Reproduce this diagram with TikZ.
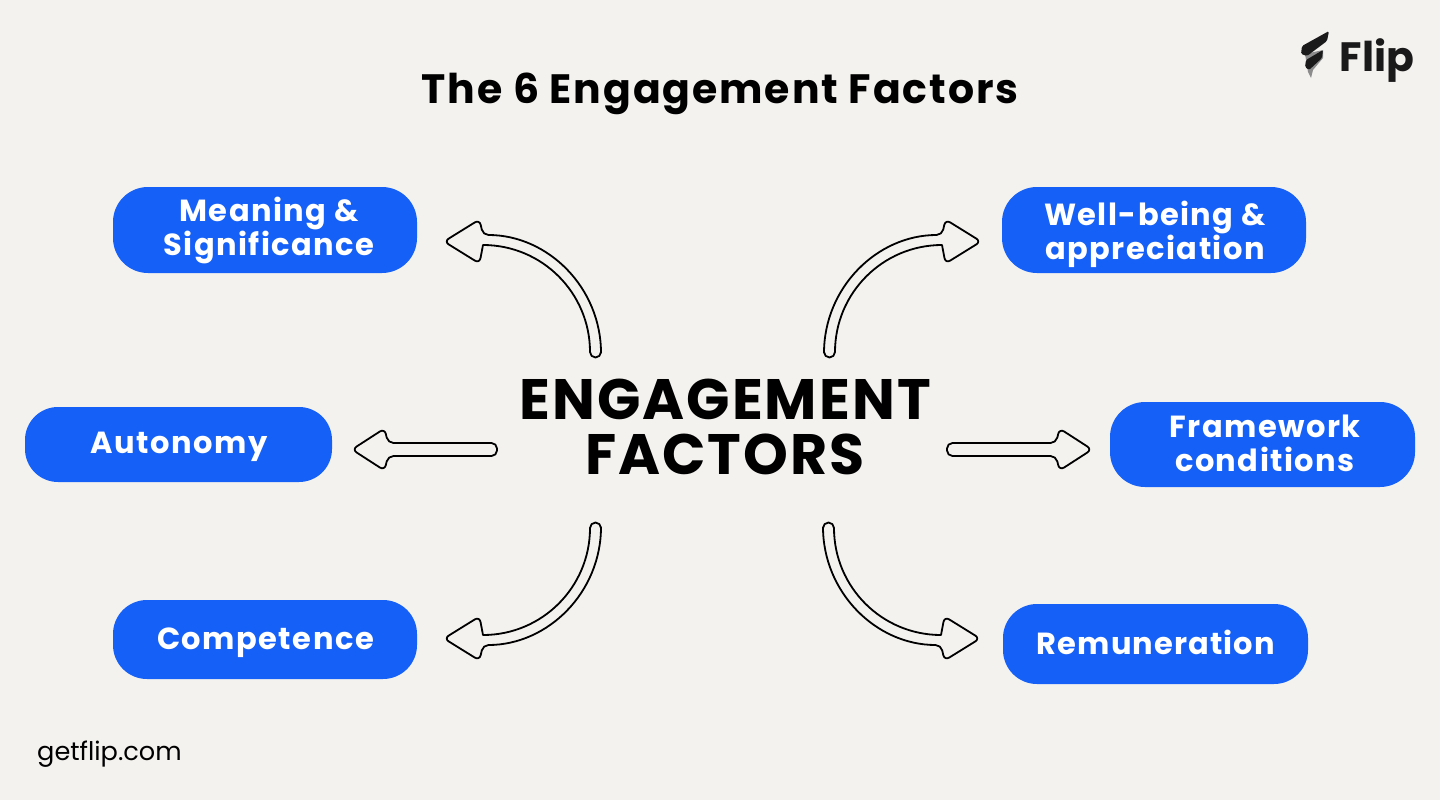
\documentclass[tikz,border=0pt]{standalone}
\usepackage{fontspec}
\setmainfont{Poppins}
\newfontfamily\titlefont[LetterSpace=4.6]{Poppins Bold}
\newfontfamily\pillfont[LetterSpace=4.8]{Poppins Bold}
\newfontfamily\pilltightfont[LetterSpace=3.6]{Poppins Bold}
\newfontfamily\centerfont[LetterSpace=3.6]{Poppins Bold}
\definecolor{bgpaper}{HTML}{F4F2EF}
\definecolor{pillblue}{HTML}{1560F6}
\definecolor{inkdark}{HTML}{1A1A1A}
\definecolor{inkgray}{HTML}{8C8C8C}
\tikzset{
  pillbox/.style={fill=pillblue,draw=none,inner sep=0pt},
  pilltext/.style={text=white,font=\fontsize{30.5}{34}\selectfont\pillfont,align=center,inner sep=0pt},
  arrowoutline/.style={draw=black,line width=1.8pt,fill=bgpaper,rounded corners=5.5pt,line join=round},
}
\newcommand{\pillat}[6]{% name, x0,y0,x1,y1, radius
  \path[pillbox,rounded corners=#6pt] (#2,-#3) rectangle (#4,-#5);
  \coordinate (#1) at ({(#2+#4)/2},{-(#3+#5)/2});
}
\newcommand{\curvedarrow}{%
  \draw[arrowoutline]
    (444,-241.5) -- (479.5,-219.5) -- (483,-235)
    [sharp corners] arc[start angle=90,end angle=0,radius=118]
    -- (601,-352) arc[start angle=0,end angle=-180,radius=5.5]
    arc[start angle=0,end angle=90,radius=107]
    [rounded corners=5.5pt] -- (479.5,-263.5) -- cycle;
}
\newcommand{\straightarrow}{%
  \draw[arrowoutline]
    (352,-449.5) -- (384.5,-428.5) -- (388,-443) -- (497,-443) -- (497,-456) -- (388,-456) -- (384.5,-470.5) -- cycle;
}
\begin{document}
\begin{tikzpicture}[x=1pt,y=1pt]
\useasboundingbox (0,0) rectangle (1440,-800);
\fill[bgpaper] (0,0) rectangle (1440,-800);

\node[inner sep=0pt,font=\fontsize{41}{46}\selectfont\titlefont] (title) at (720,-94) {The 6 Engagement Factors};

% logo
\fill[inkgray] (1305,-54) -- (1323,-50) -- (1323,-58) -- (1313,-70) -- (1311,-78) -- (1308,-72) -- cycle;
\fill[inkdark,rounded corners=1.5pt] (1329,-31) -- (1327,-41) -- (1307,-56) -- (1301,-54) -- (1302,-46) -- cycle;
\fill[inkdark,rounded corners=1.5pt] (1323,-50) -- (1322,-58) -- (1309,-70) -- (1305,-67) -- (1306,-60) -- cycle;
\node[inner sep=0pt,anchor=base west,font=\fontsize{41}{46}\selectfont\bfseries,text=inkdark] (logo) at (1339.5,-72) {Flip};

\node[inner sep=0pt,anchor=base west,font=\fontsize{25.6}{30}\selectfont] (site) at (37,-760) {getflip.com};

% centre label
\node[inner sep=0pt,align=center,font=\fontsize{57}{55}\selectfont\centerfont] (centre) at (725,-427) {ENGAGEMENT\\FACTORS};

% pills
\pillat{p1}{113}{187}{417}{273}{35}
\pillat{p2}{1002}{187}{1306}{273}{35}
\pillat{p3}{25}{407}{332}{482}{33}
\pillat{p4}{1110}{402}{1415}{487}{35}
\pillat{p5}{113}{600}{417}{679}{34}
\pillat{p6}{1003}{604}{1308}{684}{34}

\node[pilltext] (t1) at (269,-230) {Meaning \&\\Significance};
\node[pilltext] (t2) at (1155,-234) {Well-being \&\\appreciation};
\node[pilltext] (t3) at (179,-447) {Autonomy};
\node[pilltext] (t4) at (1265,-443) {Framework\\conditions};
\node[pilltext] (t5) at (265.5,-643) {Competence};
\node[pilltext,font=\fontsize{30.5}{34}\selectfont\pilltightfont] (t6) at (1156,-642) {Remuneration};

% arrows
\curvedarrow
\begin{scope}[xscale=-1,xshift=-1425pt]\curvedarrow\end{scope}
\begin{scope}[yscale=-1,yshift=880pt]\curvedarrow\end{scope}
\begin{scope}[xscale=-1,yscale=-1,xshift=-1424pt,yshift=880pt]\curvedarrow\end{scope}
\straightarrow
\begin{scope}[xscale=-1,xshift=-1444pt]\straightarrow\end{scope}
\end{tikzpicture}
\end{document}
